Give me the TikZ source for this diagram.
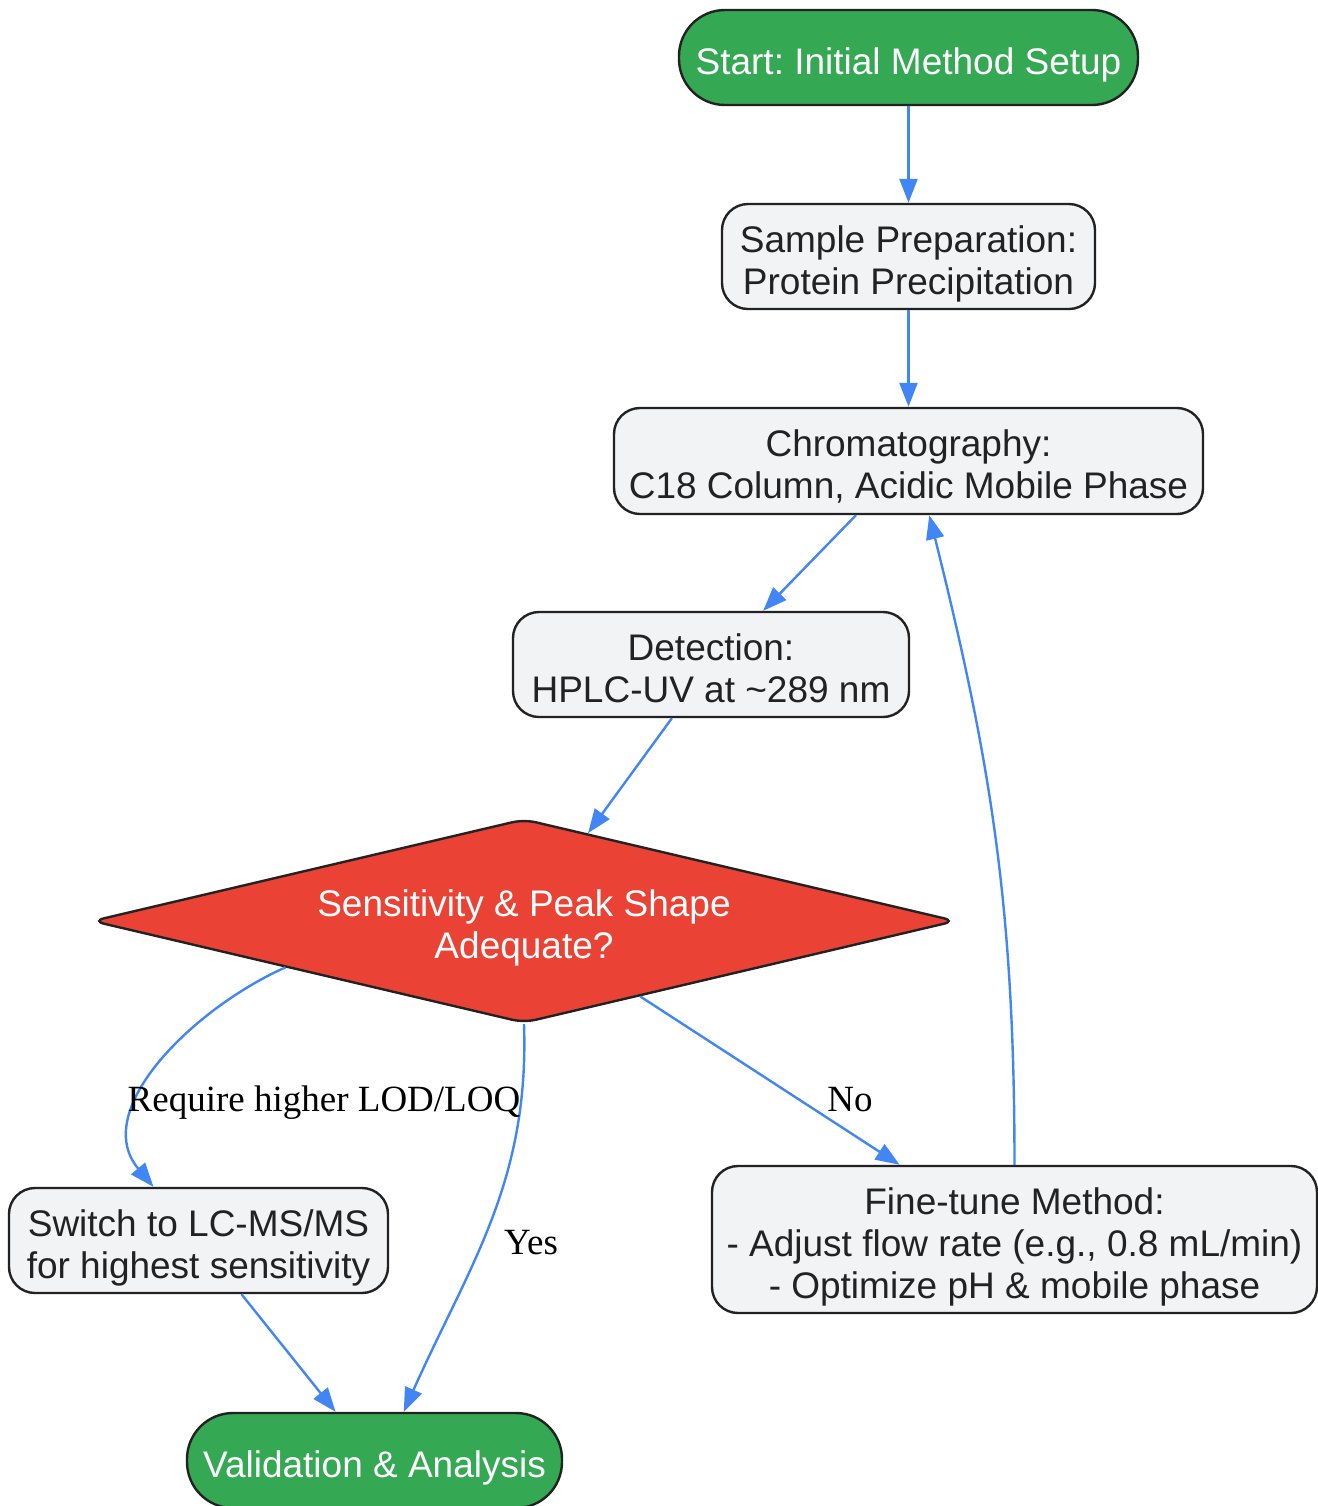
\documentclass[tikz,border=0pt]{standalone}
\usepackage{fontspec}
\setmainfont{Liberation Sans}
\newfontfamily\labelfont{Liberation Serif}
\usepackage{xcolor}
\usepackage{tikz}
\usetikzlibrary{shapes,shapes.geometric,arrows,arrows.meta,positioning,calc}
\definecolor{startgreen}{RGB}{52,168,83}
\definecolor{checkred}{RGB}{234,67,53}
\definecolor{boxgray}{RGB}{241,243,244}
\definecolor{flowblue}{RGB}{66,133,244}
\definecolor{inkgray}{RGB}{34,34,34}
\frenchspacing

\begin{document}
\begin{tikzpicture}[x=0.5pt, y=-0.5pt,
    every node/.style={font=\fontsize{18.5}{21}\selectfont, text=inkgray, align=center, text depth=0pt},
    oneline/.style={text height=16.5pt},
    twoline/.style={text height=37.5pt},
    threeline/.style={text height=58.5pt},
    terminal/.style={draw=inkgray, line width=1.2pt, fill=startgreen, text=white, rounded corners=23pt, minimum height=47.5pt, inner sep=0pt, oneline},
    process/.style={draw=inkgray, line width=1.2pt, fill=boxgray, rounded corners=13pt, inner sep=0pt},
    decision/.style={diamond, aspect=4.2, draw=inkgray, line width=1.2pt, fill=checkred, text=white, rounded corners=6pt, inner sep=0pt, minimum width=432pt, minimum height=102pt, twoline},
    flow/.style={draw=flowblue, line width=1.2pt, -{Triangle[length=12pt,width=9pt]}},
    edgelabel/.style={font=\labelfont\fontsize{18.5}{21}\selectfont, text=black}]
    \useasboundingbox (0,0) rectangle (1318,1506);

    \node[terminal, minimum width=229.5pt] (start) at (908.5,57.5) {Start: Initial Method Setup};
    \node[process, twoline, minimum width=186.5pt, minimum height=52.5pt] (prep) at (908.5,256.5) {Sample Preparation:\\Protein Precipitation};
    \node[process, twoline, minimum width=294.5pt, minimum height=53pt] (chrom) at (908.5,461) {Chromatography:\\C18 Column, Acidic Mobile Phase};
    \node[process, twoline, minimum width=198pt, minimum height=52.5pt] (detect) at (711,664.5) {Detection:\\HPLC-UV at \textasciitilde289 nm};
    \node[decision] (check) at (524,921) {Sensitivity \& Peak Shape\\Adequate?};
    \node[process, twoline, minimum width=189.5pt, minimum height=52.5pt] (switch) at (198.5,1240.5) {Switch to LC-MS/MS\\for highest sensitivity};
    \node[process, threeline, minimum width=302.5pt, minimum height=73.5pt] (tune) at (1014.5,1239.5) {Fine-tune Method:\\- Adjust flow rate (e.g., 0.8 mL/min)\\- Optimize pH \& mobile phase};
    \node[terminal, minimum width=187.5pt] (valid) at (374.5,1460.5) {Validation \& Analysis};

    \draw[flow] (start) -- (prep);
    \draw[flow] (prep) -- (chrom);
    \draw[flow] (chrom) -- (detect);
    \draw[flow] (detect) -- (check);
    \draw[flow] (check) -- (tune);
    \draw[flow] (tune.north) to[out=90, in=-76] (chrom.-69);
    \draw[flow] (check.191) to[out=-156, in=130] (switch.130);
    \draw[flow] (check.south) to[out=-88, in=66] (valid.59);
    \draw[flow] (switch) -- (valid);

    \node[edgelabel] (lbl-lod) at (324,1099) {Require higher LOD/LOQ};
    \node[edgelabel] (lbl-yes) at (531,1242) {Yes};
    \node[edgelabel] (lbl-no) at (850,1099) {No};
\end{tikzpicture}
\end{document}
